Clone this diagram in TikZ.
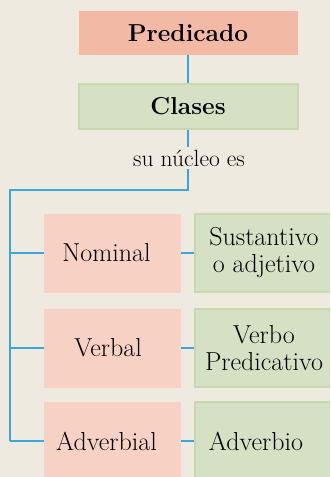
\documentclass[tikz,border=0pt]{standalone}
\usepackage{fontspec}
\usetikzlibrary{positioning}
\definecolor{fondo}{HTML}{EEEAE0}
\definecolor{salmon}{HTML}{F2B9A4}
\definecolor{rosa}{HTML}{F7D1C3}
\definecolor{verde}{HTML}{D6E0C4}
\definecolor{verdeborde}{HTML}{C7D9AC}
\definecolor{azul}{HTML}{3BA6DB}

\begin{document}
\begin{tikzpicture}[x=1pt,y=1pt,
    texto/.style={font=\fontsize{26}{27}\selectfont, align=center, inner sep=0pt},
    titulo/.style={texto, font=\fontsize{24.5}{27}\selectfont\bfseries},
    rosacaja/.style={texto, fill=rosa, minimum width=137pt, minimum height=79pt},
    verdecaja/.style={texto, fill=verde, draw=verdeborde, line width=2pt, minimum width=138pt, minimum height=78pt},
    rama/.style={draw=azul, line width=2pt}]

    % fondo y recorte
    \fill[fondo] (0,0) rectangle (330,-477);
    \clip (0,0) rectangle (330,-477);

    % cabecera
    \node[titulo, fill=salmon, minimum width=219pt, minimum height=44pt] (pred) at (188,-33) {Predicado};
    \node[titulo, fill=verde, draw=verdeborde, line width=2pt, minimum width=219pt, minimum height=45pt] (clases) at (188,-106.5) {Clases};
    \draw[rama] (pred) -- (clases);

    % bus
    \coordinate (b1) at (clases.south |- 0,-190);
    \coordinate (b2) at (10,-190);
    \coordinate (b3) at (10,-441);
    \draw[rama] (clases) -- (b1) -- (b2) -- (b3);
    \node[texto, fill=fondo, inner sep=3pt, font=\fontsize{23.5}{26}\selectfont] (nucleo) at (189,-158) {su núcleo es};

    % clases
    \node[rosacaja] (nom) at (112.5,-253) {Nominal\hspace*{12pt}};
    \node[rosacaja] (verb) at (112.5,-348) {Verbal\hspace*{9pt}};
    \node[rosacaja] (adv) at (112.5,-441) {Adverbial\hspace*{12pt}};

    \node[verdecaja] (nomR) at (264,-253) {Sustantivo\\o adjetivo};
    \node[verdecaja] (verbR) at (264,-348) {Verbo\\Predicativo};
    \node[verdecaja] (advR) at (264,-441) {Adverbio\hspace*{16pt}};

    % ramas
    \foreach \c in {nom,verb,adv}{
        \draw[rama] (b2 |- \c.west) -- (\c.west);
        \draw[rama] (\c.east) -- (\c R.west);
    }
\end{tikzpicture}
\end{document}
